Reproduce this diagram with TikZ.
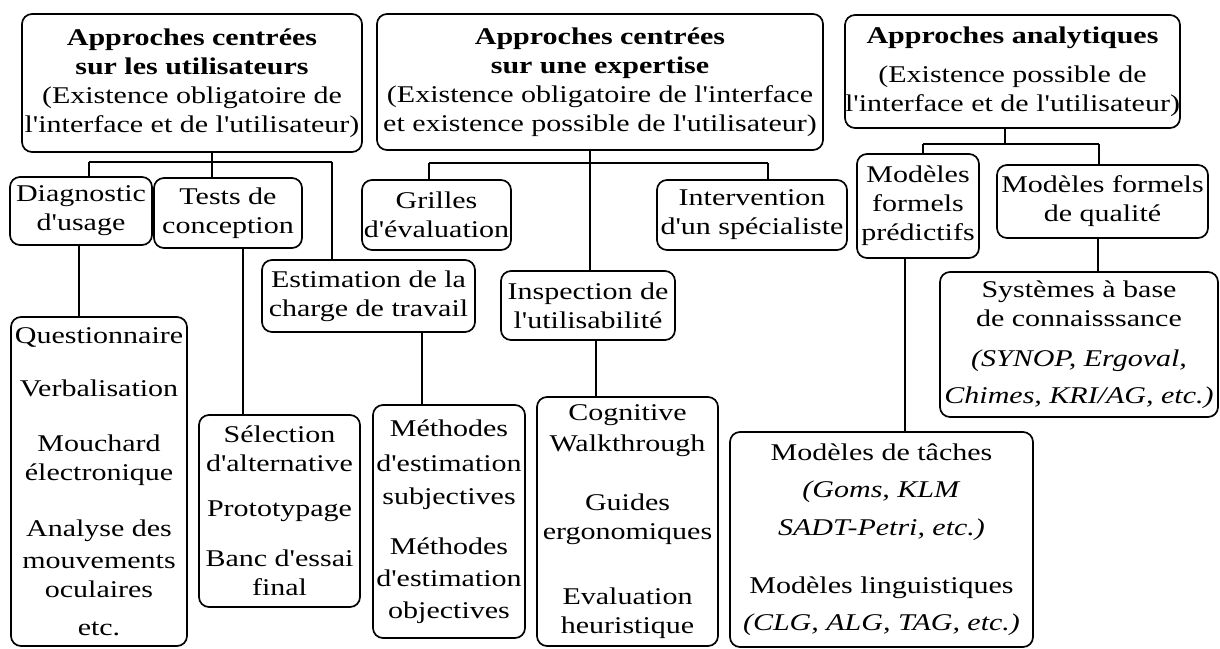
\documentclass[tikz,border=0pt]{standalone}
\usepackage{fontspec}
\setmainfont[FakeStretch=1.25, Ligatures=TeXOff]{Liberation Serif}
\begin{document}
\begin{tikzpicture}[x=1pt,y=-1pt,
  box/.style={draw, line width=1.7pt, rounded corners=10pt, align=center,
    inner sep=0pt, font=\fontsize{24}{29}\selectfont},
  link/.style={line width=1.7pt}]
\useasboundingbox[fill=white] (0,0) rectangle (1220,648);

% top-level approaches
\node[box, minimum width=340pt, minimum height=138pt] (b1) at (192,83)
  {\textbf{Approches centrées}\\ \textbf{sur les utilisateurs}\\
   (Existence obligatoire de\\ l'interface et de l'utilisateur)};
\node[box, minimum width=446pt, minimum height=136pt] (b2) at (600,82)
  {\textbf{Approches centrées}\\ \textbf{sur une expertise}\\
   (Existence obligatoire de l'interface\\ et existence possible de l'utilisateur)};
\node[box, minimum width=335pt, minimum height=113pt] (b3) at (1012.5,71.5)
  {\textbf{Approches analytiques}\\[10pt] (Existence possible de\\
   l'interface et de l'utilisateur)};

% second level
\node[box, minimum width=142pt, minimum height=68pt] (diag) at (81,211)
  {Diagnostic\\ d'usage};
\node[box, minimum width=148pt, minimum height=70pt] (tests) at (228,213)
  {Tests de\\ conception};
\node[box, minimum width=213pt, minimum height=72pt] (estim) at (368.5,296)
  {Estimation de la\\ charge de travail};
\node[box, minimum width=149pt, minimum height=70pt] (grilles) at (436.5,215)
  {Grilles\\ d'évaluation};
\node[box, minimum width=174pt, minimum height=69pt] (inspect) at (588,305.5)
  {Inspection de\\ l'utilisabilité};
\node[box, minimum width=190pt, minimum height=70pt] (interv) at (752,215)
  {Intervention\\ d'un spécialiste};
\node[box, minimum width=122pt, minimum height=104pt] (predic) at (918,206)
  {Modèles\\ formels\\ prédictifs};
\node[box, minimum width=211pt, minimum height=73pt] (qualite) at (1102.5,201.5)
  {Modèles formels\\ de qualité};

% methods
\node[box, minimum width=176pt, minimum height=329pt] (quest) at (99,481.5)
  {Questionnaire\\[24pt] Verbalisation\\[26pt] Mouchard\\ électronique\\[27pt]
   Analyse des\\[3pt] mouvements\\ oculaires\\[9pt] etc.};
\node[box, minimum width=161pt, minimum height=192pt] (select) at (279.5,511)
  {Sélection\\ d'alternative\\[16pt] Prototypage\\[21pt] Banc d'essai\\ final};
\node[box, minimum width=152pt, minimum height=233pt] (methodes) at (449,521.5)
  {Méthodes\\[6pt] d'estimation\\[4pt] subjectives\\[21pt]
   Méthodes\\[3pt] d'estimation\\[3pt] objectives};
\node[box, minimum width=181pt, minimum height=249pt] (cognitive) at (627.5,521.5)
  {Cognitive\\[2pt] Walkthrough\\[30pt] Guides\\ ergonomiques\\[36pt]
   Evaluation\\ heuristique};
\node[box, minimum width=303pt, minimum height=215pt] (taches) at (881.5,539.5)
  {Modèles de tâches\\[8pt] \textit{(Goms, KLM}\\[9pt] \textit{SADT-Petri, etc.)}\\[29pt]
   Modèles linguistiques\\[8pt] \textit{(CLG, ALG, TAG, etc.)}};
\node[box, minimum width=278pt, minimum height=145pt] (systemes) at (1079,344.5)
  {Systèmes à base\\ de connaisssance\\[11pt] \textit{(SYNOP, Ergoval,}\\[8pt]
   \textit{Chimes, KRI/AG, etc.)}};

% branching under the first approach
\coordinate (t1) at (212,162);
\coordinate (t1l) at (89,162);
\coordinate (t1r) at (332,162);
\draw[link] (b1.south -| t1) -- (t1);
\draw[link] (t1l) -- (t1r);
\draw[link] (t1l) -- (t1l |- diag.north);
\draw[link] (t1) -- (t1 |- tests.north);
\draw[link] (t1r) -- (t1r |- estim.north);

% branching under the second approach
\coordinate (t2) at (590,163);
\coordinate (t2l) at (429,163);
\coordinate (t2r) at (768,163);
\draw[link] (b2.south -| t2) -- (t2 |- inspect.north);
\draw[link] (t2l) -- (t2r);
\draw[link] (t2l) -- (t2l |- grilles.north);
\draw[link] (t2r) -- (t2r |- interv.north);

% branching under the third approach
\coordinate (t3) at (1005,144);
\coordinate (t3l) at (923,144);
\coordinate (t3r) at (1099,144);
\draw[link] (b3.south -| t3) -- (t3);
\draw[link] (t3l) -- (t3r);
\draw[link] (t3l) -- (t3l |- predic.north);
\draw[link] (t3r) -- (t3r |- qualite.north);

% links down to the methods
\draw[link] (diag.south -| 79,0) -- (quest.north -| 79,0);
\draw[link] (tests.south -| 243,0) -- (select.north -| 243,0);
\draw[link] (estim.south -| 422,0) -- (methodes.north -| 422,0);
\draw[link] (inspect.south -| 596,0) -- (cognitive.north -| 596,0);
\draw[link] (predic.south -| 905,0) -- (taches.north -| 905,0);
\draw[link] (qualite.south -| 1098,0) -- (systemes.north -| 1098,0);
\end{tikzpicture}
\end{document}
